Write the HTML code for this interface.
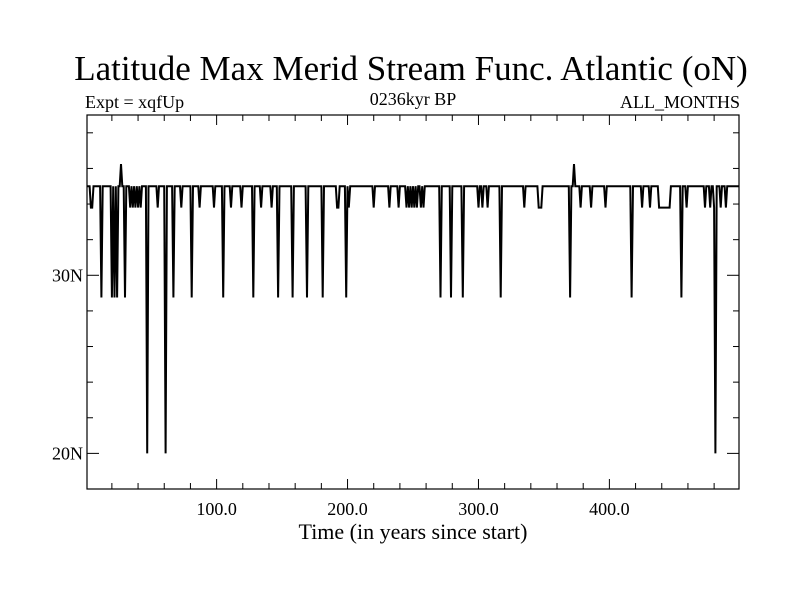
<!DOCTYPE html>
<html><head><meta charset="utf-8"><style>
body{margin:0;background:#fff}
svg text{font-family:"Liberation Serif",serif;fill:#000}
</style></head><body>
<svg width="800" height="600" id="c">
<text x="411" y="80" font-size="35" text-anchor="middle">Latitude Max Merid Stream Func. Atlantic (oN)</text>
<text x="85" y="108" font-size="18">Expt = xqfUp</text>
<text x="413" y="105" font-size="18" text-anchor="middle">0236kyr BP</text>
<text x="740" y="108" font-size="18" text-anchor="end">ALL_MONTHS</text>
<text x="413" y="539" font-size="22" text-anchor="middle">Time (in years since start)</text>
<g id="axes"></g>
<path id="line" fill="none" stroke="#000" stroke-width="2" stroke-linejoin="miter"/>
<rect x="87" y="115" width="652" height="374" fill="none" stroke="#000" stroke-width="1.2"/>
</svg>
<script>
const baseValue = 35.0;
const smallDipYears = [4,5,34,36,38,40,42,55,73,87,98,111,119,134,142,192,193,201,220,232,239,245,247,249,251,253,256,258,300,303,307,335,346,347,348,378,386,397,425,431,438,439,440,441,442,443,444,445,446,459,473,477,480,485,489];
const smallDipValue = 33.8;
const deepDipYears = [12,20,22,24,30,67,81,105,128,147,158,169,181,199,271,279,288,317,370,417,455];
const deepDipValue = 28.75;
const extremeDipYears = [47,61,481];
const extremeDipValue = 20.0;
const peakYears = [27,373];
const peakValue = 36.25;
const xTicks = [100,200,300,400];
const xTickLabels = ["100.0","200.0","300.0","400.0"];
const yTicks = [20,30];
const yTickLabels = ["20N","30N"];
const xMin=1,xMax=499,yMin=18,yMax=39;
const L=87,R=739,T=115,B=489;
const sx=v=>L+(v-xMin)/(xMax-xMin)*(R-L);
const sy=v=>B-(v-yMin)/(yMax-yMin)*(B-T);
const years=[],vals=[];
for(let y=xMin;y<=xMax;y++){
  let v=baseValue;
  if(smallDipYears.includes(y))v=smallDipValue;
  if(deepDipYears.includes(y))v=deepDipValue;
  if(extremeDipYears.includes(y))v=extremeDipValue;
  if(peakYears.includes(y))v=peakValue;
  years.push(y);vals.push(v);
}
document.getElementById('line').setAttribute('d',years.map((y,i)=>(i?'L':'M')+sx(y).toFixed(1)+','+sy(vals[i]).toFixed(1)).join(''));
const NS='http://www.w3.org/2000/svg',g=document.getElementById('axes');
function ln(x1,y1,x2,y2,name){const l=document.createElementNS(NS,'line');
l.setAttribute('x1',x1);l.setAttribute('y1',y1);l.setAttribute('x2',x2);l.setAttribute('y2',y2);l.setAttribute('stroke','#000');l.setAttribute('stroke-width','1');


g.appendChild(l);}
function tx(x,y,s,anchor,name){const t=document.createElementNS(NS,'text');t.setAttribute('x',x);t.setAttribute('y',y);t.setAttribute('font-size','18');t.setAttribute('text-anchor',anchor);t.textContent=s;


g.appendChild(t);}
for(let v=20;v<=480;v+=20){const x=sx(v),big=v%100===0?10:6;ln(x,B,x,B-big,'x-tick');ln(x,T,x,T+big,'x-tick-top');}
for(let v=20;v<=38;v+=2){const y=sy(v),big=v%10===0?12:6;ln(L,y,L+big,y,'y-tick');ln(R,y,R-big,y,'y-tick-right');}
xTicks.forEach((v,i)=>tx(sx(v),B+26,xTickLabels[i],'middle','x-tick-label'));
yTicks.forEach((v,i)=>tx(L-4,sy(v)+6,yTickLabels[i],'end','y-tick-label'));
</script>
</body></html>
